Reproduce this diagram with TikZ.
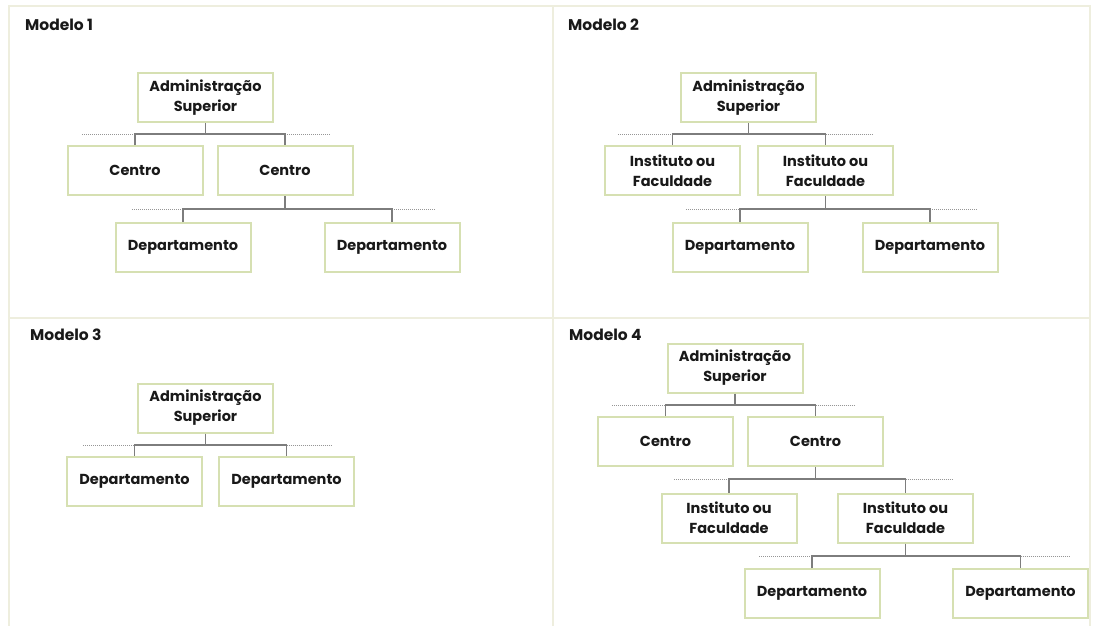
\documentclass[tikz,border=0pt]{standalone}
\usepackage{fontspec}
\setmainfont{Poppins}
\usetikzlibrary{calc}
\definecolor{boxline}{RGB}{214,224,178}
\definecolor{frameline}{RGB}{238,238,222}
\definecolor{connline}{RGB}{125,125,125}
\definecolor{dotcol}{RGB}{150,150,150}
\definecolor{txt}{RGB}{25,25,25}
\begin{document}
\begin{tikzpicture}[x=1pt,y=-1pt,
  orgbox/.style={draw=boxline,line width=2pt,fill=white,inner sep=0pt,
    minimum width=135pt,minimum height=49pt,align=center,text=txt,
    font=\fontsize{14.5}{20}\selectfont\bfseries},
  title/.style={anchor=base west,text=txt,inner sep=0pt,
    font=\fontsize{15.5}{18}\selectfont\bfseries},
  conn/.style={draw=connline,line width=1.8pt},
  dotline/.style={draw=dotcol,line width=0.8pt,dash pattern=on 1pt off 1pt},
  panel/.style={draw=frameline,line width=2pt}]
\useasboundingbox (0,0) rectangle (1093,625);
\fill[white] (0,0) rectangle (1093,625);

% panel frame and dividers
\draw[panel] (9,6) rectangle (1090,640);
\draw[panel] (553,6) -- (553,640);
\draw[panel] (9,318) -- (1090,318);

% ---------- Modelo 1 ----------
\node[title] (t1) at (25,30) {Modelo 1};
\node[orgbox] (m1a) at (205.5,97.5) {Administração\\Superior};
\node[orgbox] (m1c1) at (135,170.5) {Centro};
\node[orgbox] (m1c2) at (285,170.5) {Centro};
\node[orgbox] (m1d1) at (183,247.5) {Departamento};
\node[orgbox] (m1d2) at (392,247.5) {Departamento};
\coordinate (m1b1) at (0,134);
\coordinate (m1b2) at (0,209);
\coordinate (m1l1) at (82,134);
\coordinate (m1r1) at (331,134);
\coordinate (m1l2) at (132,209);
\coordinate (m1r2) at (436,209);
\draw[dotline] (m1l1) -- (m1c1.north |- m1b1);
\draw[dotline] (m1c2.north |- m1b1) -- (m1r1);
\draw[dotline] (m1l2) -- (m1d1.north |- m1b2);
\draw[dotline] (m1d2.north |- m1b2) -- (m1r2);
\draw[conn] (m1a.south) -- (m1a.south |- m1b1);
\draw[conn] (m1c1.north) -- (m1c1.north |- m1b1) -- (m1c2.north |- m1b1) -- (m1c2.north);
\draw[conn] (m1c2.south) -- (m1c2.south |- m1b2);
\draw[conn] (m1d1.north) -- (m1d1.north |- m1b2) -- (m1d2.north |- m1b2) -- (m1d2.north);

% ---------- Modelo 2 ----------
\node[title] (t2) at (568,30) {Modelo 2};
\node[orgbox] (m2a) at (748.5,97.5) {Administração\\Superior};
\node[orgbox] (m2i1) at (672.5,170.5) {Instituto ou\\Faculdade};
\node[orgbox] (m2i2) at (825.5,170.5) {Instituto ou\\Faculdade};
\node[orgbox] (m2d1) at (740,247.5) {Departamento};
\node[orgbox] (m2d2) at (930,247.5) {Departamento};
\coordinate (m2b1) at (0,134);
\coordinate (m2b2) at (0,209);
\coordinate (m2l1) at (618,134);
\coordinate (m2r1) at (873,134);
\coordinate (m2l2) at (686,209);
\coordinate (m2r2) at (978,209);
\draw[dotline] (m2l1) -- (m2i1.north |- m2b1);
\draw[dotline] (m2i2.north |- m2b1) -- (m2r1);
\draw[dotline] (m2l2) -- (m2d1.north |- m2b2);
\draw[dotline] (m2d2.north |- m2b2) -- (m2r2);
\draw[conn] (m2a.south) -- (m2a.south |- m2b1);
\draw[conn] (m2i1.north) -- (m2i1.north |- m2b1) -- (m2i2.north |- m2b1) -- (m2i2.north);
\draw[conn] (m2i2.south) -- (m2i2.south |- m2b2);
\draw[conn] (m2d1.north) -- (m2d1.north |- m2b2) -- (m2d2.north |- m2b2) -- (m2d2.north);

% ---------- Modelo 3 ----------
\node[title] (t3) at (30,340) {Modelo 3};
\node[orgbox] (m3a) at (205.5,408) {Administração\\Superior};
\node[orgbox] (m3d1) at (134.5,481.5) {Departamento};
\node[orgbox] (m3d2) at (286.5,481.5) {Departamento};
\coordinate (m3b1) at (0,445);
\coordinate (m3l1) at (83,445);
\coordinate (m3r1) at (332,445);
\draw[dotline] (m3l1) -- (m3d1.north |- m3b1);
\draw[dotline] (m3d2.north |- m3b1) -- (m3r1);
\draw[conn] (m3a.south) -- (m3a.south |- m3b1);
\draw[conn] (m3d1.north) -- (m3d1.north |- m3b1) -- (m3d2.north |- m3b1) -- (m3d2.north);

% ---------- Modelo 4 ----------
\node[title] (t4) at (569,340) {Modelo 4};
\node[orgbox] (m4a) at (735,368) {Administração\\Superior};
\node[orgbox] (m4c1) at (665.5,441.5) {Centro};
\node[orgbox] (m4c2) at (815.5,441.5) {Centro};
\node[orgbox] (m4i1) at (729,518) {Instituto ou\\Faculdade};
\node[orgbox] (m4i2) at (905.5,518) {Instituto ou\\Faculdade};
\node[orgbox] (m4d1) at (812,593.5) {Departamento};
\node[orgbox] (m4d2) at (1020.5,593.5) {Departamento};
\coordinate (m4b1) at (0,405);
\coordinate (m4b2) at (0,479);
\coordinate (m4b3) at (0,556);
\coordinate (m4l1) at (612,405);
\coordinate (m4r1) at (855,405);
\coordinate (m4l2) at (674,479);
\coordinate (m4r2) at (952,479);
\coordinate (m4l3) at (759,556);
\coordinate (m4r3) at (1070,556);
\draw[dotline] (m4l1) -- (m4c1.north |- m4b1);
\draw[dotline] (m4c2.north |- m4b1) -- (m4r1);
\draw[dotline] (m4l2) -- (m4i1.north |- m4b2);
\draw[dotline] (m4i2.north |- m4b2) -- (m4r2);
\draw[dotline] (m4l3) -- (m4d1.north |- m4b3);
\draw[dotline] (m4d2.north |- m4b3) -- (m4r3);
\draw[conn] (m4a.south) -- (m4a.south |- m4b1);
\draw[conn] (m4c1.north) -- (m4c1.north |- m4b1) -- (m4c2.north |- m4b1) -- (m4c2.north);
\draw[conn] (m4c2.south) -- (m4c2.south |- m4b2);
\draw[conn] (m4i1.north) -- (m4i1.north |- m4b2) -- (m4i2.north |- m4b2) -- (m4i2.north);
\draw[conn] (m4i2.south) -- (m4i2.south |- m4b3);
\draw[conn] (m4d1.north) -- (m4d1.north |- m4b3) -- (m4d2.north |- m4b3) -- (m4d2.north);
\end{tikzpicture}
\end{document}
